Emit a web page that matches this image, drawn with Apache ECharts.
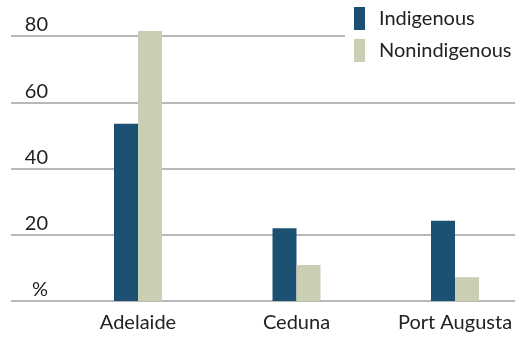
<!DOCTYPE html>
<html>
<head>
<meta charset="utf-8">
<script src="https://cdn.jsdelivr.net/npm/echarts@6/dist/echarts.min.js"></script>
<style>
  html, body { margin: 0; padding: 0; background: #fff; }
  #chart { width: 524px; height: 338px; }
</style>
</head>
<body>
<div id="chart"></div>
<script>
// Share of people (%) by town and group
const categories = ['Adelaide', 'Ceduna', 'Port Augusta'];
const indigenous = [53.5, 22.0, 24.2];
const nonindigenous = [81.5, 10.9, 7.2];
const yTicks = [0, 20, 40, 60, 80];

const FONT = 'Lato';
const chart = echarts.init(document.getElementById('chart'), null, { renderer: 'canvas' });

chart.setOption({
  animation: false,
  backgroundColor: '#fff',
  textStyle: { fontFamily: FONT },
  legend: {
    orient: 'vertical',
    left: 345,
    top: 7,
    padding: [0, 6, 2, 9],
    backgroundColor: '#fff',
    itemWidth: 11,
    itemHeight: 23,
    itemGap: 9,
    icon: 'rect',
    textStyle: { fontFamily: FONT, fontSize: 20, color: '#222', padding: [4, 0, 0, 9] },
    data: ['Indigenous', 'Nonindigenous']
  },
  grid: [
    // grid 0: gridlines and value labels
    { left: 11, right: 9, top: 36, bottom: 37 },
    // grid 1: bars and category labels, ticks at the category centres
    { left: 138, right: 69, top: 36, bottom: 37 }
  ],
  xAxis: [
    { type: 'category', gridIndex: 0, data: categories, show: false },
    {
      type: 'category', gridIndex: 1, data: categories, boundaryGap: false,
      axisLine: { show: false }, axisTick: { show: false },
      axisLabel: { fontFamily: FONT, fontSize: 20, color: '#222', margin: 12 }
    }
  ],
  yAxis: [
    {
      type: 'value', gridIndex: 0, min: yTicks[0], max: yTicks[yTicks.length - 1], interval: 20,
      axisLine: { show: false }, axisTick: { show: false },
      splitLine: { lineStyle: { color: '#b8b8b8', width: 2 } },
      axisLabel: {
        inside: true, margin: 37, align: 'right', verticalAlign: 'bottom',
        fontFamily: FONT, fontSize: 20, color: '#222', padding: [0, 0, 1, 0],
        formatter: v => (v === 0 ? '%' : String(v))
      }
    },
    {
      type: 'value', gridIndex: 1, min: yTicks[0], max: yTicks[yTicks.length - 1], interval: 20,
      show: false, splitLine: { show: false }
    }
  ],
  series: [
    {
      name: 'Indigenous', type: 'bar', xAxisIndex: 1, yAxisIndex: 1, clip: false,
      data: indigenous, barWidth: 24, barGap: '0%',
      itemStyle: { color: '#1c5072' }
    },
    {
      name: 'Nonindigenous', type: 'bar', xAxisIndex: 1, yAxisIndex: 1, clip: false,
      data: nonindigenous, barWidth: 24, barGap: '0%',
      itemStyle: { color: '#c9cfb2' }
    }
  ]
});
</script>
</body>
</html>
